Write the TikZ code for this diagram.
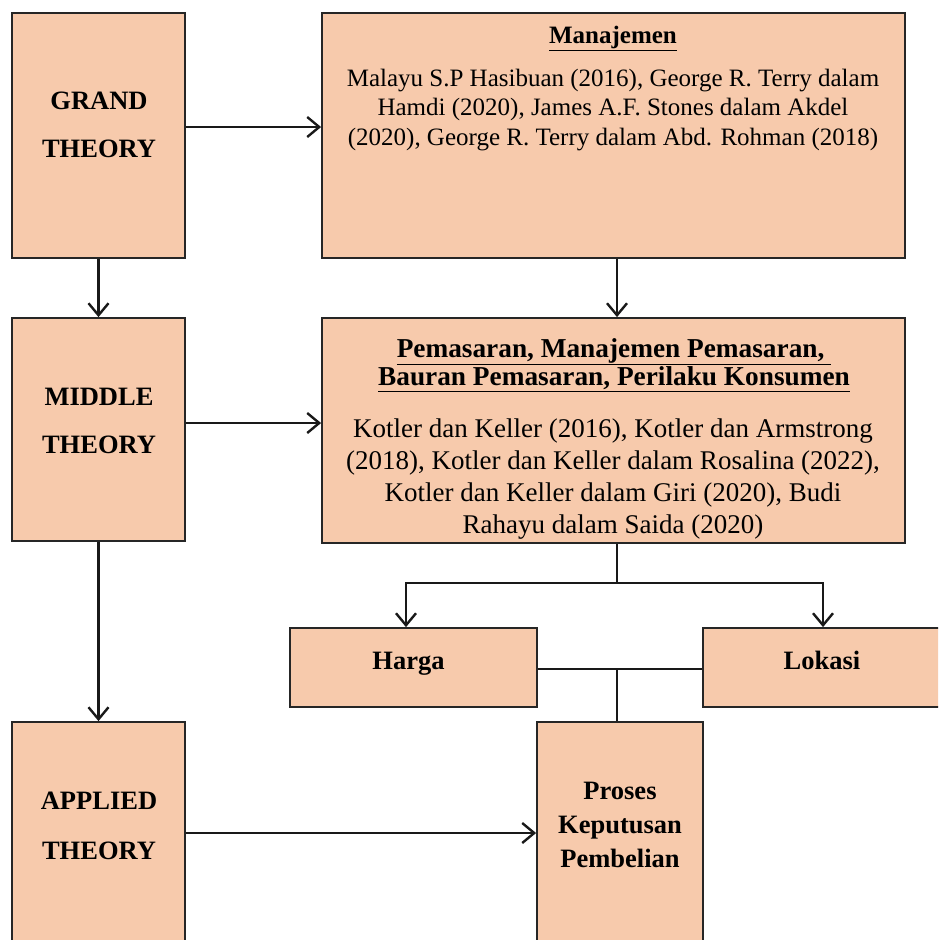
\documentclass[tikz,border=0pt]{standalone}
\usepackage{fontspec}
\setmainfont{Liberation Serif}
\usetikzlibrary{arrows.meta}
\definecolor{peach}{HTML}{F7CAAC}
\begin{document}
\begin{tikzpicture}[x=1pt,y=-1pt,
  box/.style={draw=black!85, line width=1.8pt, fill=peach, inner sep=0pt},
  conn/.style={draw=black!90, line width=2.4pt},
  arr/.style={conn, -{Straight Barb[length=12pt,width=20pt,line width=2.4pt]}},
  bigbold/.style={align=center, inner sep=0pt, font=\bfseries\fontsize{26.5}{48}\selectfont},
  body/.style={align=center, inner sep=0pt, font=\fontsize{25}{29.5}\selectfont}]
\useasboundingbox (0,0) rectangle (938,940);
\clip (0,0) rectangle (938,940);
% boxes
\node[box, minimum width=173pt, minimum height=245pt] (grand) at (98.5,135.5) {};
\node[box, minimum width=173pt, minimum height=223pt] (mid) at (98.5,429.5) {};
\node[box, minimum width=173pt, minimum height=258pt] (app) at (98.5,851) {};
\node[box, minimum width=583pt, minimum height=245pt] (man) at (613.5,135.5) {};
\node[box, minimum width=583pt, minimum height=225pt] (pem) at (613.5,430.5) {};
\node[box, minimum width=247pt, minimum height=79pt] (harga) at (413.5,667.5) {};
\node[box, minimum width=257pt, minimum height=79pt] (lok) at (831.5,667.5) {};
\node[box, minimum width=166pt, minimum height=258pt] (pros) at (620,851) {};
% texts
\node[bigbold] (tgrand) at (99,125) {GRAND\\THEORY};
\node[bigbold] (tmid) at (99,420.5) {MIDDLE\\THEORY};
\node[bigbold, font=\bfseries\fontsize{26.5}{50}\selectfont] (tapp) at (99,826) {APPLIED\\THEORY};
\node[bigbold, font=\bfseries\fontsize{26.5}{34}\selectfont] (tpros) at (620,825) {Proses\\Keputusan\\Pembelian};
\node[bigbold, anchor=base] (tharga) at (408.5,669) {Harga};
\node[bigbold, anchor=base] (tlok) at (822,669) {Lokasi};
\node[bigbold, font=\bfseries\fontsize{25}{28}\selectfont] (tman) at (613,38) {\underline{Manajemen}};
\node[body] (bman) at (613,110) {Malayu S.P Hasibuan (2016), George R. Terry dalam\\Hamdi (2020), James A.F. Stones dalam Akdel\\(2020), George R. Terry dalam Abd. Rohman (2018)};
\node[bigbold, font=\bfseries\fontsize{27.3}{28}\selectfont] (tpem) at (614,365) {\underline{Pemasaran, Manajemen Pemasaran, }\\\underline{Bauran Pemasaran, Perilaku Konsumen}};
\node[body, font=\fontsize{27}{32}\selectfont] (bpem) at (613,479) {Kotler dan Keller (2016), Kotler dan Armstrong\\(2018), Kotler dan Keller dalam Rosalina (2022),\\Kotler dan Keller dalam Giri (2020), Budi\\Rahayu dalam Saida (2020)};
% connectors
\coordinate (br) at (617,583);
\coordinate (jn) at (617,669);
\draw[arr] ([yshift=8.5pt]grand.east) -- ([yshift=8.5pt]grand.east -| man.west);
\draw[arr] (grand.south) -- (mid.north);
\draw[arr] ([xshift=3.5pt]man.south) -- ([xshift=3.5pt]man.south |- pem.north);
\draw[arr] ([yshift=6.5pt]mid.east) -- ([yshift=6.5pt]mid.east -| pem.west);
\draw[arr] (mid.south) -- (app.north);
\draw[conn] (br |- pem.south) -- (br);
\draw[arr] (br) -| ([xshift=-7.5pt]harga.north);
\draw[arr] (br) -| ([xshift=-8.5pt]lok.north);
\draw[conn] (jn -| harga.east) -- (jn -| lok.west);
\draw[conn] (jn) -- (jn |- pros.north);
\draw[arr] ([yshift=18pt]app.east) -- ([yshift=18pt]app.east -| pros.west);
\end{tikzpicture}
\end{document}
